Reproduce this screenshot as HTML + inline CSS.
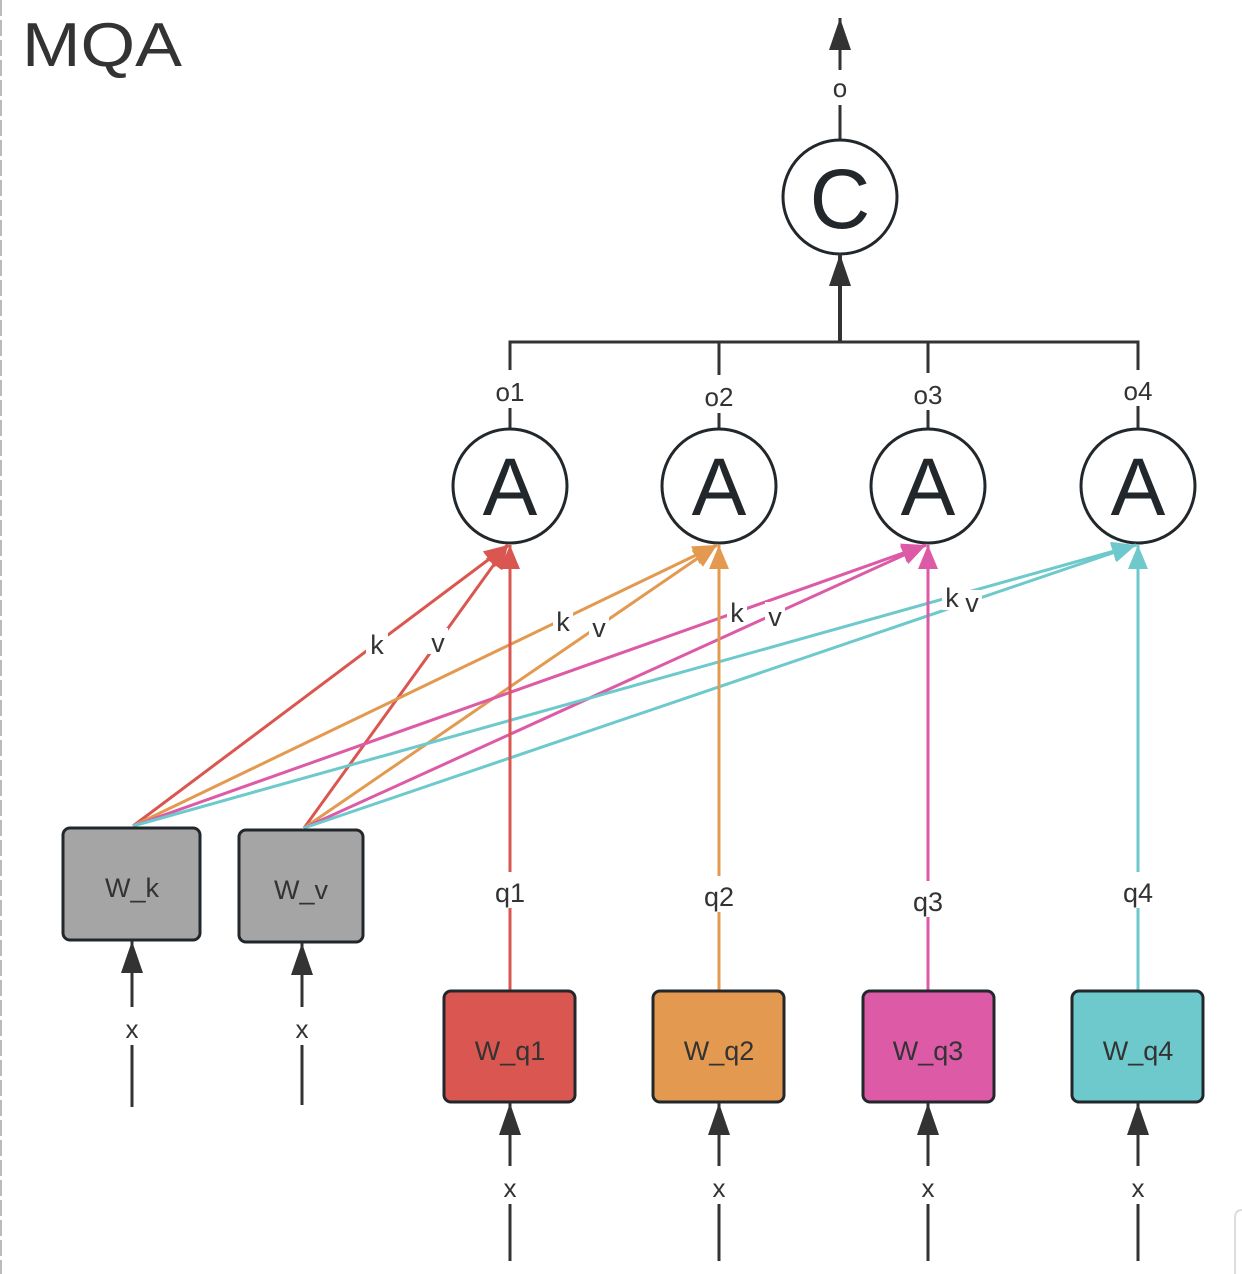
<!DOCTYPE html>
<html><head><meta charset="utf-8"><style>
html,body{margin:0;padding:0;background:#fff;}
svg{display:block;font-family:"Liberation Sans",sans-serif;}
</style></head><body>
<svg width="1242" height="1274" viewBox="0 0 1242 1274" xmlns="http://www.w3.org/2000/svg">
<defs>
<marker id="mr" markerUnits="userSpaceOnUse" markerWidth="26" markerHeight="22" refX="24" refY="10" orient="auto"><path d="M0,0 L24,10 L0,20 z" fill="#d95750"/></marker>
<marker id="mo" markerUnits="userSpaceOnUse" markerWidth="26" markerHeight="22" refX="24" refY="10" orient="auto"><path d="M0,0 L24,10 L0,20 z" fill="#e39a50"/></marker>
<marker id="mp" markerUnits="userSpaceOnUse" markerWidth="26" markerHeight="22" refX="24" refY="10" orient="auto"><path d="M0,0 L24,10 L0,20 z" fill="#dc5aa6"/></marker>
<marker id="mc" markerUnits="userSpaceOnUse" markerWidth="26" markerHeight="22" refX="24" refY="10" orient="auto"><path d="M0,0 L24,10 L0,20 z" fill="#6dc9cc"/></marker>
<marker id="mk" markerUnits="userSpaceOnUse" markerWidth="34" markerHeight="24" refX="32" refY="11" orient="auto"><path d="M0,0 L32,11 L0,22 z" fill="#333"/></marker>
</defs>
<line x1="1" y1="0" x2="1" y2="1274" stroke="#bbb" stroke-width="2" stroke-dasharray="16,4"/>
<path d="M1235,1274 V1218 Q1235,1210 1242,1210" fill="none" stroke="#ddd" stroke-width="2"/>
<text x="22" y="66" font-size="62" fill="#333" textLength="160" lengthAdjust="spacingAndGlyphs">MQA</text>

<line x1="840" y1="140" x2="840" y2="105" stroke="#333" stroke-width="3"/>
<line x1="840" y1="70" x2="840" y2="18" stroke="#333" stroke-width="3" marker-end="url(#mk)"/>
<text x="840" y="97" font-size="26" fill="#333" text-anchor="middle">o</text>
<circle cx="840" cy="197" r="57" fill="#fff" stroke="#22272b" stroke-width="3"/>
<text x="840" y="228" font-size="84" fill="#22272b" text-anchor="middle">C</text>
<line x1="840" y1="342" x2="840" y2="254" stroke="#333" stroke-width="4" marker-end="url(#mk)"/>
<path d="M510,370 V342 H1138 V370 M719,342 V375 M928,342 V373" fill="none" stroke="#333" stroke-width="3"/>

<g stroke="#333" stroke-width="3">
<line x1="510" y1="408" x2="510" y2="430"/><line x1="719" y1="413" x2="719" y2="430"/>
<line x1="928" y1="410" x2="928" y2="430"/><line x1="1138" y1="406" x2="1138" y2="430"/>
</g>
<g font-size="26" fill="#333" text-anchor="middle">
<text x="510" y="401">o1</text><text x="719" y="406">o2</text><text x="928" y="404">o3</text><text x="1138" y="400">o4</text>
</g>
<g fill="#fff" stroke="#22272b" stroke-width="3">
<circle cx="510" cy="486" r="57"/><circle cx="719" cy="486" r="57"/><circle cx="928" cy="486" r="57"/><circle cx="1138" cy="486" r="57"/>
</g>
<g font-size="82" fill="#22272b" text-anchor="middle">
<text x="510" y="515">A</text><text x="719" y="515">A</text><text x="928" y="515">A</text><text x="1138" y="515">A</text>
</g>

<g stroke-width="3" fill="none">
<line x1="133" y1="826" x2="508" y2="545" stroke="#d95750" marker-end="url(#mr)"/>
<line x1="304" y1="828" x2="508" y2="545" stroke="#d95750" marker-end="url(#mr)"/>
<line x1="133" y1="826" x2="717" y2="545" stroke="#e39a50" marker-end="url(#mo)"/>
<line x1="304" y1="828" x2="717" y2="545" stroke="#e39a50" marker-end="url(#mo)"/>
<line x1="133" y1="826" x2="926" y2="545" stroke="#dc5aa6" marker-end="url(#mp)"/>
<line x1="304" y1="828" x2="926" y2="545" stroke="#dc5aa6" marker-end="url(#mp)"/>
<line x1="133" y1="826" x2="1136" y2="545" stroke="#6dc9cc" marker-end="url(#mc)"/>
<line x1="304" y1="828" x2="1136" y2="545" stroke="#6dc9cc" marker-end="url(#mc)"/>
</g>
<g stroke-width="3">
<line x1="510" y1="991" x2="510" y2="545" stroke="#d95750" marker-end="url(#mr)"/>
<line x1="719" y1="991" x2="719" y2="545" stroke="#e39a50" marker-end="url(#mo)"/>
<line x1="928" y1="991" x2="928" y2="545" stroke="#dc5aa6" marker-end="url(#mp)"/>
<line x1="1138" y1="991" x2="1138" y2="545" stroke="#6dc9cc" marker-end="url(#mc)"/>
</g>
<g fill="#fff">
<rect x="366" y="630" width="22" height="26"/><rect x="428" y="628" width="20" height="26"/>
<rect x="553" y="607" width="20" height="26"/><rect x="589" y="613" width="20" height="26"/>
<rect x="727" y="598" width="20" height="26"/><rect x="765" y="602" width="20" height="26"/>
<rect x="942" y="584" width="20" height="26"/><rect x="962" y="590" width="20" height="26"/>
<rect x="492" y="872" width="36" height="36"/><rect x="701" y="876" width="36" height="36"/>
<rect x="910" y="881" width="36" height="36"/><rect x="1120" y="872" width="36" height="36"/>
</g>
<g font-size="27" fill="#333" text-anchor="middle">
<text x="377" y="654">k</text><text x="438" y="652">v</text>
<text x="563" y="631">k</text><text x="599" y="637">v</text>
<text x="737" y="622">k</text><text x="775" y="626">v</text>
<text x="952" y="607">k</text><text x="972" y="612">v</text>
<text x="510" y="902">q1</text><text x="719" y="906">q2</text><text x="928" y="911">q3</text><text x="1138" y="902">q4</text>
</g>

<g stroke="#22272b" stroke-width="3">
<rect x="63" y="828" width="137" height="112" rx="7" fill="#a5a5a5"/>
<rect x="239" y="830" width="124" height="112" rx="7" fill="#a5a5a5"/>
<rect x="444" y="991" width="131" height="111" rx="7" fill="#d95750"/>
<rect x="653" y="991" width="131" height="111" rx="7" fill="#e39a50"/>
<rect x="863" y="991" width="131" height="111" rx="7" fill="#dc5aa6"/>
<rect x="1072" y="991" width="131" height="111" rx="7" fill="#6dc9cc"/>
</g>
<g font-size="27" fill="#333" text-anchor="middle">
<text x="132" y="897">W_k</text><text x="301" y="899">W_v</text>
<text x="510" y="1060">W_q1</text><text x="719" y="1060">W_q2</text><text x="928" y="1060">W_q3</text><text x="1138" y="1060">W_q4</text>
</g>

<g stroke="#333" stroke-width="3">
<line x1="132" y1="1007" x2="132" y2="941" marker-end="url(#mk)"/>
<line x1="132" y1="1045" x2="132" y2="1107"/>
<line x1="302" y1="1007" x2="302" y2="943" marker-end="url(#mk)"/>
<line x1="302" y1="1045" x2="302" y2="1105"/>
<line x1="510" y1="1166" x2="510" y2="1103" marker-end="url(#mk)"/><line x1="510" y1="1204" x2="510" y2="1261"/>
<line x1="719" y1="1166" x2="719" y2="1103" marker-end="url(#mk)"/><line x1="719" y1="1204" x2="719" y2="1261"/>
<line x1="928" y1="1166" x2="928" y2="1103" marker-end="url(#mk)"/><line x1="928" y1="1204" x2="928" y2="1261"/>
<line x1="1138" y1="1166" x2="1138" y2="1103" marker-end="url(#mk)"/><line x1="1138" y1="1204" x2="1138" y2="1261"/>
</g>
<g font-size="26" fill="#333" text-anchor="middle">
<text x="132" y="1038">x</text><text x="302" y="1038">x</text>
<text x="510" y="1197">x</text><text x="719" y="1197">x</text><text x="928" y="1197">x</text><text x="1138" y="1197">x</text>
</g>
</svg>
</body></html>
